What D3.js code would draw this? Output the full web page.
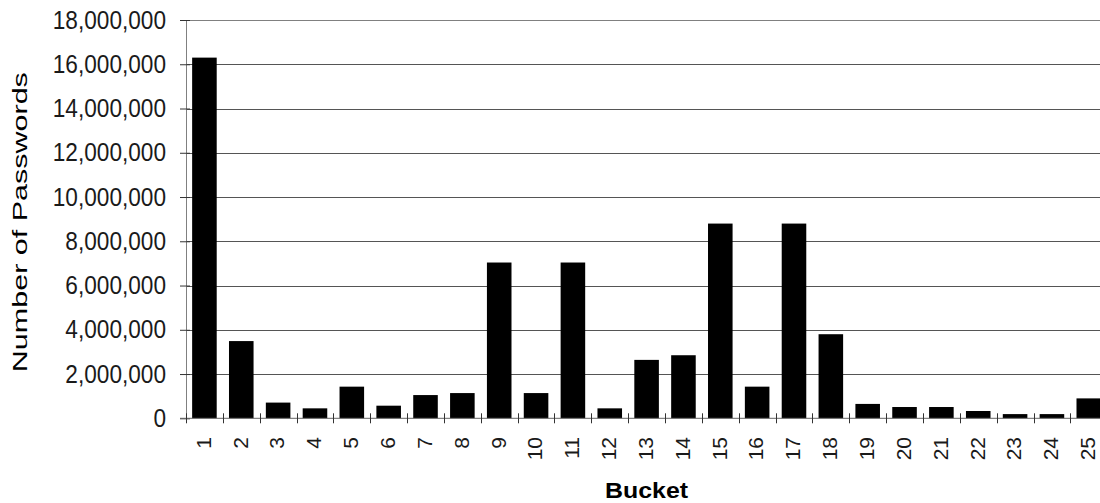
<!DOCTYPE html>
<html>
<head>
<meta charset="utf-8">
<script src="https://cdn.jsdelivr.net/npm/d3@7"></script>
<style>
html,body{margin:0;padding:0;background:#fff;overflow:hidden;}
svg{display:block;}
</style>
</head>
<body>
<svg id="chart" width="1100" height="503"></svg>
<script>
const buckets = ["1","2","3","4","5","6","7","8","9","10","11","12","13","14","15","16","17","18","19","20","21","22","23","24","25"];
const passwords = [16300000,3490000,710000,450000,1430000,570000,1050000,1140000,7040000,1140000,7040000,450000,2640000,2850000,8800000,1430000,8800000,3800000,650000,510000,510000,330000,190000,190000,900000];
const yTicks = [0,2000000,4000000,6000000,8000000,10000000,12000000,14000000,16000000,18000000];
const xTitle = "Bucket";
const yTitle = "Number of Passwords";

const svg = d3.select("#chart");
const mLeft = 186, mRight = 1107.2, mTop = 20, mBottom = 418.3;
const FONT = "'Liberation Sans', Arial, sans-serif";

const x = d3.scaleBand().domain(buckets).range([mLeft, mRight]).paddingInner(1/3).paddingOuter(1/6);
const y = d3.scaleLinear().domain([0, 18000000]).range([mBottom, mTop]);

// gridlines
svg.append("g").selectAll("line").data(yTicks.filter(d => d > 0)).join("line")
  .attr("x1", mLeft).attr("x2", mRight)
  .attr("y1", d => Math.round(y(d)) + 0.5).attr("y2", d => Math.round(y(d)) + 0.5)
  .attr("stroke", d => d === 18000000 ? "#808080" : "#555").attr("stroke-width", 1);

// bars
svg.append("g").selectAll("rect").data(buckets).join("rect")
  .attr("x", (d) => x(d))
  .attr("width", x.bandwidth())
  .attr("y", (d, i) => y(passwords[i]))
  .attr("height", (d, i) => mBottom - y(passwords[i]))
  .attr("fill", "#000");

// y axis
const yAxis = d3.axisLeft(y).tickValues(yTicks).tickFormat(d3.format(",")).tickSizeInner(6).tickSizeOuter(0).tickPadding(14);
const gy = svg.append("g").attr("transform", `translate(${mLeft},0)`).call(yAxis);
gy.select(".domain").attr("stroke", "#808080");
gy.selectAll(".tick line").attr("x2", -6).attr("x1", 4).attr("stroke", "#333");
gy.selectAll(".tick text").attr("font-family", FONT).attr("font-size", 25).attr("fill", "#1a1a1a")
  .each(function(){ const l = this.getComputedTextLength(); d3.select(this).attr("textLength", l*0.905).attr("lengthAdjust","spacingAndGlyphs"); });

// x axis
const step = x.step();
const bounds = d3.range(buckets.length + 1).map(i => mLeft + i * step);
const gx = svg.append("g");
gx.append("line").attr("x1", mLeft - 6).attr("x2", mRight).attr("y1", mBottom).attr("y2", mBottom).attr("stroke", "#666");
gx.selectAll("line.t").data(bounds).join("line").attr("class","t")
  .attr("x1", d => Math.round(d) + 0.5).attr("x2", d => Math.round(d) + 0.5)
  .attr("y1", mBottom - 5).attr("y2", mBottom + 5).attr("stroke", "#333");
gx.selectAll("text").data(buckets).join("text")
  .attr("transform", d => `translate(${x(d) + x.bandwidth()/2},437) rotate(-90)`)
  .attr("text-anchor", "end").attr("dy", "0.3em")
  .attr("font-family", FONT).attr("font-size", 21).attr("fill", "#1a1a1a")
  .text(d => d);

// titles
svg.append("text").attr("x", (mLeft + mRight)/2).attr("y", 498).attr("text-anchor","middle")
  .attr("font-family", FONT).attr("font-weight","bold").attr("font-size", 22).attr("fill","#000")
  .attr("textLength", 83).attr("lengthAdjust","spacingAndGlyphs").text(xTitle);
svg.append("text").attr("transform", `translate(27,${(mTop+mBottom)/2 + 3}) rotate(-90)`).attr("text-anchor","middle")
  .attr("font-family", FONT).attr("font-size", 21).attr("fill","#000")
  .attr("textLength", 300).attr("lengthAdjust","spacingAndGlyphs").text(yTitle);
</script>
</body>
</html>
